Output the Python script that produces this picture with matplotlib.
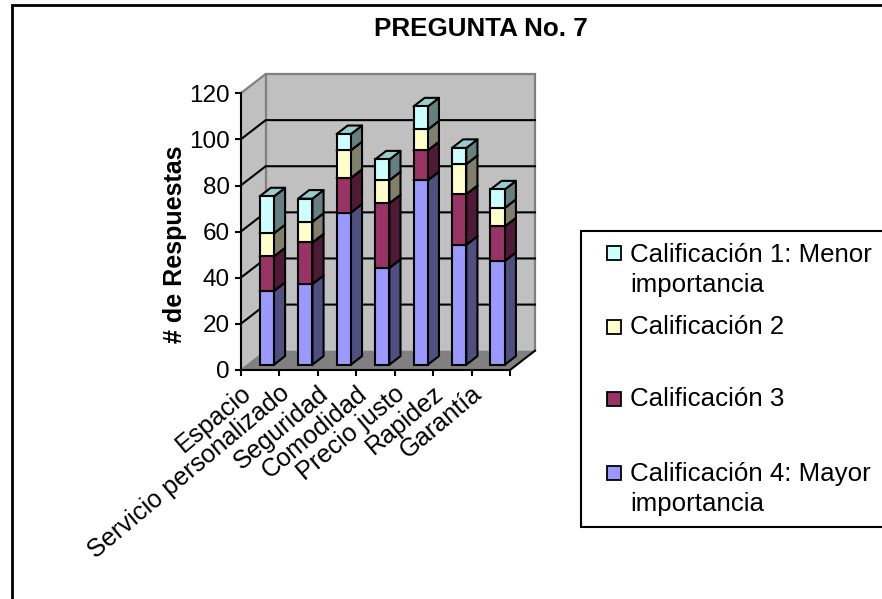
import matplotlib
matplotlib.use("Agg")
import matplotlib.pyplot as plt
from matplotlib.patches import Rectangle

plt.rcParams['font.family'] = ['Liberation Sans', 'DejaVu Sans']

categorias = ["Espacio", "Servicio personalizado", "Seguridad", "Comodidad",
              "Precio justo", "Rapidez", "Garantía"]
cal4 = [32, 35, 66, 42, 80, 52, 45]
cal3 = [15, 18, 15, 28, 13, 22, 15]
cal2 = [10, 9, 12, 10, 9, 13, 8]
cal1 = [16, 10, 7, 9, 10, 7, 8]
y_ticks = [0, 20, 40, 60, 80, 100, 120]
nombres = ["Calificación 4: Mayor\nimportancia", "Calificación 3", "Calificación 2",
           "Calificación 1: Menor\nimportancia"]

frente = ["#9999FF", "#993366", "#FFFFCC", "#CCFFFF"]
lado = ["#4F4F80", "#4F1A35", "#80806A", "#668080"]
arriba = ["#8080C0", "#73264D", "#BFBF99", "#99CCCC"]

W, H = 882, 599
fig = plt.figure(figsize=(W / 100, H / 100), dpi=100)

# marco del grafico (se sale por la derecha y abajo)
fig.add_artist(Rectangle((11.5 / W, -0.1), 1, 1.1 - 5.5 / H, transform=fig.transFigure,
                         fill=False, ec="black", lw=2))

ax = fig.add_axes([240.7 / W, 1 - 370 / H, 269.3 / W, 276.7 / H])
ax.set_xlim(0, 7)
ax.set_ylim(0, 120)
ax.patch.set_visible(False)
for s in ax.spines.values():
    s.set_visible(False)

# fondo 3d: profundidad en unidades de datos
DX = 25.0 / (269.3 / 7)
DY = 19.3 / (276.7 / 120)

ax.fill([0, DX, DX, 0], [0, DY, 120 + DY, 120], fc="#C0C0C0", ec="none", clip_on=False, zorder=1)
ax.fill([DX, 7 + DX, 7 + DX, DX], [DY, DY, 120 + DY, 120 + DY], fc="#C0C0C0", ec="none",
        clip_on=False, zorder=1)
ax.plot([0, DX, 7 + DX, 7 + DX], [120, 120 + DY, 120 + DY, DY], color="#808080", lw=1.6,
        clip_on=False, zorder=1.5, solid_joinstyle="miter")
ax.plot([DX, DX], [DY, 120 + DY], color="#808080", lw=1.6, clip_on=False, zorder=1.5)
ax.fill([0, 7, 7 + DX, DX], [0, 0, DY, DY], fc="#808080", ec="none", clip_on=False, zorder=2)

for t in y_ticks[1:-1]:
    ax.plot([0, DX, 7 + DX], [t, t + DY, t + DY], color="black", lw=1.5, clip_on=False, zorder=1.6)

# ejes delanteros
ax.plot([0, 0], [0, 120], color="black", lw=1.5, clip_on=False, zorder=3)
ax.plot([0, 7, 7 + DX], [0, 0, DY], color="black", lw=1.5, clip_on=False, zorder=3)
ax.plot([0, DX], [0, DY], color="#808080", lw=1, clip_on=False, zorder=2.5)

ax.set_yticks(y_ticks)
ax.set_xticks(range(8))
ax.set_xticklabels([])
ax.tick_params(axis="y", length=4, width=1.5, direction="out", labelsize=17.5, pad=4, zorder=3)
ax.tick_params(axis="x", length=4, width=1.5, direction="out", zorder=3)
fig.text(175 / W, 1 - 244.5 / H, "# de Respuestas", fontsize=18, fontweight="bold", rotation=90,
         ha="center", va="center")

for i, c in enumerate(categorias):
    ax.annotate(c, (i + 0.5, 0), xytext=(-14, -8), textcoords="offset points", rotation=40,
                rotation_mode="anchor", ha="right", va="top", fontsize=18.2, annotation_clip=False)

# barras apiladas con caras 3d
ancho = 0.372
d0, d1 = 0.275, 0.72
series = [cal4, cal3, cal2, cal1]
base = [0] * 7
for k, serie in enumerate(series):
    xs = [i + 0.5 - ancho / 2 + d0 * DX for i in range(7)]
    bottoms = [b + d0 * DY for b in base]
    ax.bar(xs, serie, width=ancho, bottom=bottoms, align="edge", color=frente[k], ec="black",
           lw=1.5, clip_on=False, zorder=5)
    for i in range(7):
        x0 = xs[i] + ancho
        y0 = bottoms[i]
        y1 = y0 + serie[i]
        ddx = (d1 - d0) * DX
        ddy = (d1 - d0) * DY
        ax.fill([x0, x0 + ddx, x0 + ddx, x0], [y0, y0 + ddy, y1 + ddy, y1], fc=lado[k], ec="black",
                lw=1.5, clip_on=False, zorder=4, joinstyle="round")
        ax.fill([xs[i], x0, x0 + ddx, xs[i] + ddx], [y1, y1, y1 + ddy, y1 + ddy], fc=arriba[k],
                ec="black", lw=1.5, clip_on=False, zorder=4, joinstyle="round")
    base = [b + v for b, v in zip(base, serie)]

fig.text(480.5 / W, 1 - 29 / H, "PREGUNTA No. 7", fontsize=18.7, fontweight="bold", ha="center",
         va="center")

# leyenda
fig.add_artist(Rectangle((581 / W, 1 - 527 / H), 1, 296 / H, transform=fig.transFigure, fc="white",
                         ec="black", lw=1.5))
filas = [(253, 3, 270), (327, 2, 327), (399, 1, 399), (473, 0, 489)]
for y_caja, k, y_txt in filas:
    fig.add_artist(Rectangle((607 / W, 1 - (y_caja + 7) / H), 14 / W, 14 / H,
                             transform=fig.transFigure, fc=frente[k], ec="black", lw=1.3))
    fig.text(630 / W, 1 - y_txt / H, nombres[k], fontsize=18.6, ha="left", va="center",
             linespacing=1.28)

fig.savefig("out.png", dpi=100)
